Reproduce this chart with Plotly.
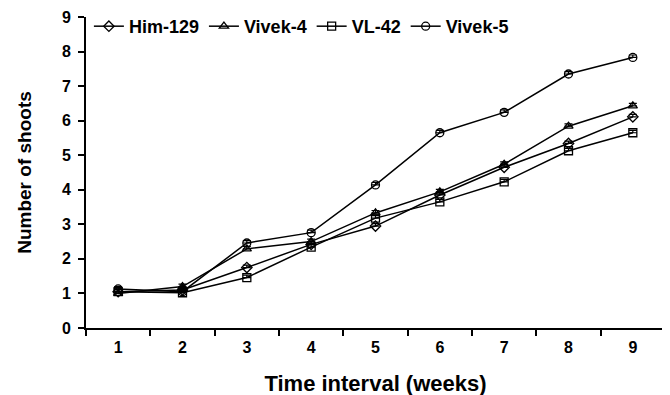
import plotly.graph_objects as go

weeks = [1, 2, 3, 4, 5, 6, 7, 8, 9]
him_129 = [1.05, 1.10, 1.75, 2.42, 2.95, 3.85, 4.65, 5.34, 6.11]
vivek_4 = [1.00, 1.20, 2.29, 2.50, 3.33, 3.94, 4.74, 5.84, 6.43]
vl_42 = [1.05, 1.02, 1.46, 2.34, 3.18, 3.65, 4.23, 5.13, 5.65]
vivek_5 = [1.13, 1.05, 2.46, 2.76, 4.14, 5.65, 6.24, 7.35, 7.83]
err = [0.07] * 9

series = [
    ("Him-129", him_129, "diamond-open"),
    ("Vivek-4", vivek_4, "triangle-up-open"),
    ("VL-42", vl_42, "square-open"),
    ("Vivek-5", vivek_5, "circle-open"),
]

fig = go.Figure()
for name, vals, sym in series:
    fig.add_trace(go.Scatter(
        x=weeks, y=vals, name=name, mode="lines+markers",
        line=dict(color="black", width=1.5),
        marker=dict(symbol=sym, size=8, color="black", line=dict(width=1.3, color="black")),
        error_y=dict(type="data", array=err, arrayminus=[0.0] * 9, color="black", thickness=1.2, width=4),
    ))

fig.update_layout(
    width=670, height=395,
    margin=dict(l=78, r=13, t=9, b=75, autoexpand=False),
    paper_bgcolor="white", plot_bgcolor="white",
    font=dict(family="Liberation Sans, Arial", color="black", size=16, weight="bold"),
    showlegend=True,
    legend=dict(orientation="h", x=0.005, y=1.029, xanchor="left", yanchor="top",
                font=dict(size=18, family="Liberation Sans, Arial", weight="bold"),
                itemwidth=30, tracegroupgap=0, bgcolor="rgba(0,0,0,0)"),
    xaxis=dict(
        range=[0.5, 9.5], tickvals=weeks, ticktext=[str(w) for w in weeks],
        ticks="", showgrid=False, zeroline=False, automargin=False,
        showline=True, linecolor="black", linewidth=2,
        tickfont=dict(size=16, weight="bold"), ticklabelstandoff=4,
        minor=dict(tick0=0.5, dtick=1, ticks="outside", ticklen=6, tickwidth=2, tickcolor="black", showgrid=False),
        title=dict(text="Time interval (weeks)", font=dict(size=22, weight="bold"), standoff=20),
    ),
    yaxis=dict(
        range=[0, 9], tickvals=list(range(10)), ticks="outside", ticklen=6, tickwidth=2,
        tickcolor="black", showgrid=False, zeroline=False, automargin=False,
        showline=True, linecolor="black", linewidth=2, ticklabelstandoff=4,
        tickfont=dict(size=16, weight="bold"),
        title=dict(text="Number of shoots", font=dict(size=19, weight="bold"), standoff=25),
    ),
)

fig.write_html("out.html")
